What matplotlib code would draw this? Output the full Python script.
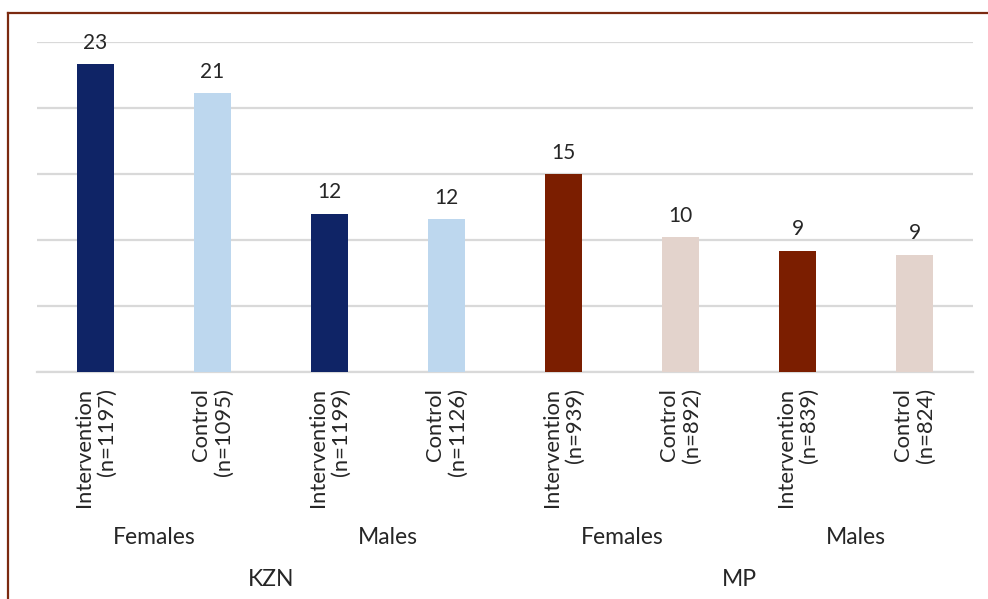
import matplotlib

matplotlib.use("Agg")
import matplotlib.pyplot as plt
from matplotlib.lines import Line2D
from matplotlib.transforms import blended_transform_factory

plt.rcParams["font.family"] = ["Lato", "DejaVu Sans"]

# Data
arms = ["Intervention", "Control", "Intervention", "Control",
        "Intervention", "Control", "Intervention", "Control"]
sizes = [1197, 1095, 1199, 1126, 939, 892, 839, 824]
values = [23.3, 21.1, 12.0, 11.6, 15.0, 10.2, 9.2, 8.9]
sexes = ["Females", "Males", "Females", "Males"]
provinces = ["KZN", "MP"]
colors = ["#0f2466", "#bdd7ee", "#0f2466", "#bdd7ee",
          "#7b1e00", "#e3d3cc", "#7b1e00", "#e3d3cc"]

W, H = 988, 599
fig = plt.figure(figsize=(W / 100, H / 100), dpi=100)
ax = fig.add_axes([37 / W, 1 - 372 / H, (973 - 37) / W, (372 - 42) / H])

x = list(range(len(values)))
bars = ax.bar(x, values, width=0.316, color=colors, zorder=3)

for b, v in zip(bars, values):
    ax.annotate(f"{v:.0f}", (b.get_x() + b.get_width() / 2, v),
                xytext=(0, 8), textcoords="offset points",
                ha="center", va="bottom", fontsize=15, color="#262626")

ax.set_xlim(-0.5, len(values) - 0.5)
ax.set_ylim(0, 25)
ax.set_yticks(range(0, 26, 5))
ax.yaxis.grid(True, color="#d9d9d9", linewidth=1.6, zorder=0)
ax.tick_params(axis="y", left=False, labelleft=False)
ax.tick_params(axis="x", bottom=False, pad=8)
for side in ["top", "right", "left"]:
    ax.spines[side].set_visible(False)
ax.spines["bottom"].set_color("#d9d9d9")
ax.spines["bottom"].set_linewidth(1.6)

ax.set_xticks(x)
ax.set_xticklabels([f"{a}\n(n={n})" for a, n in zip(arms, sizes)],
                   rotation=90, fontsize=15.8, color="#262626",
                   va="top", ha="center", multialignment="right",
                   linespacing=1.15)

trans = blended_transform_factory(ax.transData, fig.transFigure)
for i, s in enumerate(sexes):
    ax.text(2 * i + 0.5, 1 - 538 / H, s, transform=trans, ha="center",
            va="center", fontsize=16.5, color="#262626")
for i, p in enumerate(provinces):
    ax.text(4 * i + 1.5, 1 - 580 / H, p, transform=trans, ha="center",
            va="center", fontsize=16.5, color="#262626")

# brown frame of the source figure
fig.add_artist(Line2D([8 / W, 8 / W], [0, 1 - 13 / H], transform=fig.transFigure,
                      color="#7b2a10", linewidth=1.6))
fig.add_artist(Line2D([8 / W, 1], [1 - 13 / H, 1 - 13 / H], transform=fig.transFigure,
                      color="#7b2a10", linewidth=1.6))

fig.savefig("out.png", dpi=100)
